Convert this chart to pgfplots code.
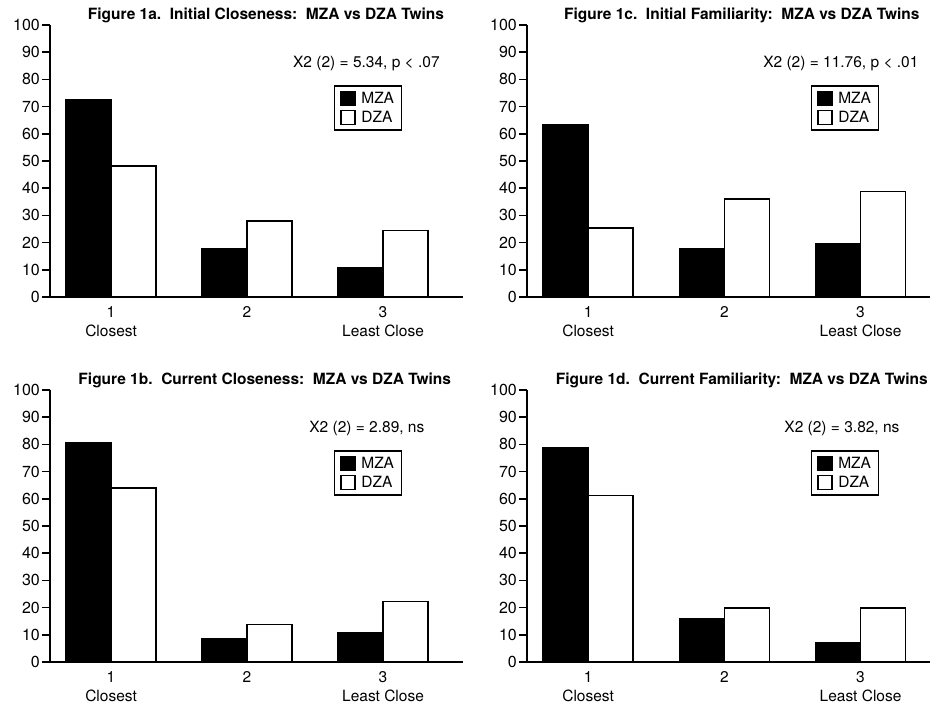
\documentclass[border=0pt]{standalone}
\usepackage{fontspec}
\setmainfont{TeX Gyre Heros}
\usepackage{pgfplots}
\pgfplotsset{compat=1.18}
\newcommand{\fs}{\fontsize{15.5}{18}\selectfont}
\pgfplotsset{
  twin/.style={
    scale only axis,
    anchor=south west,
    height=272pt,
    ymin=0, ymax=100,
    xmin=0.551,
    axis lines=left,
    axis line style={-, line width=1.8pt},
    ytick={0,10,...,100},
    tick align=outside,
    major tick length=8pt,
    ytick pos=left,
    xtick={1,2,3},
    xticklabels={{1\\Closest},{2},{3\\Least Close}},
    x tick style={draw=none},
    y tick style={line width=1.5pt, black},
    xticklabel style={align=center, font=\fontsize{15.5}{19}\selectfont, inner sep=1pt},
    yticklabel style={font=\fontsize{16}{18}\selectfont, inner sep=2pt},
    /pgf/number format/assume math mode=true,
    ybar=0pt, bar width=0.33,
    title style={font=\bfseries\fs, anchor=center},
    legend image code/.code={\draw[##1, line width=1.3pt] (0pt,-7pt) rectangle (14pt,7pt); \path (18pt,0pt);},
    legend style={draw=black, line width=1.8pt, font=\fs, anchor=center, inner xsep=6pt, inner ysep=5pt, row sep=3pt, nodes={inner sep=1.5pt}},
    legend cell align=left,
  },
  mza/.style={fill=black, draw=black, line width=1.5pt},
  dza/.style={fill=white, draw=black, line width=1.5pt},
}
\begin{document}
\begin{tikzpicture}
\path[use as bounding box] (0pt,0pt) rectangle (930pt,707pt);
% 1a
\begin{axis}[twin, at={(50pt,410pt)}, width=413pt, xmax=3.588,
  title={Figure 1a.\ \ Initial Closeness:\ \ MZA vs DZA Twins},
  title style={at={(axis description cs:0.523,1.013)}},
  legend style={at={(axis description cs:0.77,0.695)}}]
\addplot[mza] coordinates {(1,72.4) (2,17.7) (3,10.8)};
\addplot[dza] coordinates {(1,48.1) (2,27.9) (3,24.5)};
\legend{MZA,DZA}
\node[anchor=east, font=\fs] at (axis description cs:0.952,0.86) {X2 (2) = 5.34, p < .07};
\end{axis}
% 1c
\begin{axis}[twin, at={(527pt,410pt)}, width=403pt, xmax=3.51,
  title={Figure 1c.\ \ Initial Familiarity:\ \ MZA vs DZA Twins},
  title style={at={(axis description cs:0.533,1.013)}},
  legend style={at={(axis description cs:0.789,0.695)}}]
\addplot[mza] coordinates {(1,63.2) (2,17.7) (3,19.6)};
\addplot[dza] coordinates {(1,25.4) (2,36.1) (3,38.7)};
\legend{MZA,DZA}
\node[anchor=east, font=\fs] at (axis description cs:0.98,0.86) {X2 (2) = 11.76, p < .01};
\end{axis}
% 1b
\begin{axis}[twin, at={(50pt,45pt)}, width=413pt, xmax=3.588,
  title={Figure 1b.\ \ Current Closeness:\ \ MZA vs DZA Twins},
  title style={at={(axis description cs:0.52,1.013)}},
  legend style={at={(axis description cs:0.77,0.695)}}]
\addplot[mza] coordinates {(1,80.7) (2,8.4) (3,10.6)};
\addplot[dza] coordinates {(1,63.9) (2,13.7) (3,22.3)};
\legend{MZA,DZA}
\node[anchor=east, font=\fs] at (axis description cs:0.915,0.86) {X2 (2) = 2.89, ns};
\end{axis}
% 1d
\begin{axis}[twin, at={(527pt,45pt)}, width=403pt, xmax=3.51,
  title={Figure 1d.\ \ Current Familiarity:\ \ MZA vs DZA Twins},
  title style={at={(axis description cs:0.533,1.013)}},
  legend style={at={(axis description cs:0.789,0.695)}}]
\addplot[mza] coordinates {(1,78.7) (2,15.8) (3,7.2)};
\addplot[dza] coordinates {(1,61.2) (2,19.8) (3,19.8)};
\legend{MZA,DZA}
\node[anchor=east, font=\fs] at (axis description cs:0.933,0.86) {X2 (2) = 3.82, ns};
\end{axis}
\end{tikzpicture}
\end{document}
